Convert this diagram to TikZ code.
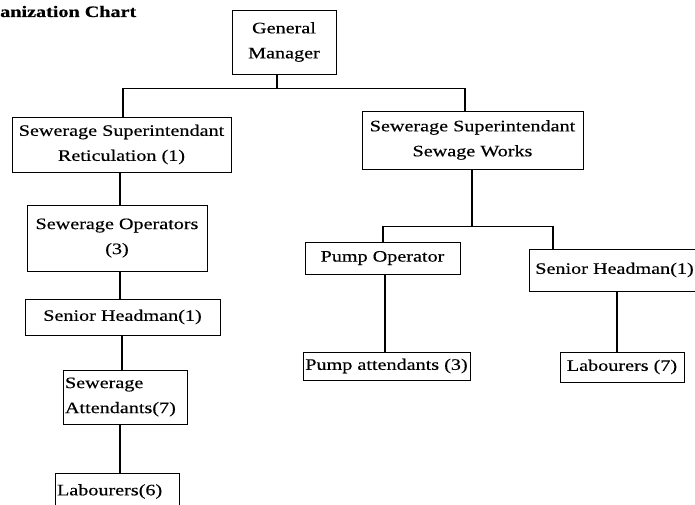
\documentclass[tikz,border=0pt]{standalone}
\usepackage{fontspec}
\setmainfont{Liberation Serif}[FakeStretch=1.26,FakeBold=0.4]
\begin{document}
\begin{tikzpicture}[x=1pt,y=-1pt,
  box/.style={draw=black,line width=0.9pt,inner sep=0pt,align=center,
    font=\fontsize{16}{25}\selectfont},
  link/.style={line width=1.4pt},
  bar/.style={line width=0.7pt}]
\useasboundingbox (0,0) rectangle (695,505);

% heading
\node[anchor=base west,inner sep=0pt,font=\fontsize{16}{18}\selectfont\bfseries] (title) at (0,17) {anization Chart};

% positions
\node[box,minimum width=104pt,minimum height=64pt] (gm) at (284,42) {General\\Manager};
\node[box,minimum width=219pt,minimum height=55pt] (ret) at (121.5,144.5) {Sewerage Superintendant\\Reticulation (1)};
\node[box,minimum width=221pt,minimum height=58pt] (works) at (472.5,140) {Sewerage Superintendant\\Sewage Works};
\node[box,minimum width=180pt,minimum height=66pt] (ops) at (117,238) {Sewerage Operators\\(3)};
\node[box,minimum width=195pt,minimum height=36pt] (sh1) at (122.5,317) {Senior Headman(1)};
\node[box,align=left,minimum width=124pt,minimum height=54pt,text width=120pt] (att) at (125,397) {Sewerage\\Attendants(7)};
\node[box,align=left,minimum width=124pt,minimum height=37pt,text width=120pt] (lab6) at (117,491.5) {Labourers(6)};
\node[box,minimum width=155pt,minimum height=32pt] (pop) at (382.5,258) {Pump Operator};
\node[box,minimum width=171pt,minimum height=42pt] (sh2) at (614.5,270) {Senior Headman(1)};
\node[box,minimum width=167pt,minimum height=28pt] (patt) at (386.5,366) {Pump attendants (3)};
\node[box,minimum width=124pt,minimum height=30pt] (lab7) at (622,367) {Labourers (7)};

% junctions of the branch bars
\coordinate (j0) at (277,88);
\coordinate (jL) at (123,88);
\coordinate (jR) at (465,88);
\coordinate (k0) at (472,226);
\coordinate (kL) at (383,226);
\coordinate (kR) at (553,226);

% top level
\draw[link] (gm.south -| j0) -- (j0);
\draw[bar] (jL) -- (jR);
\draw[link] (jL) -- (jL |- ret.north);
\draw[link] (jR) -- (jR |- works.north);

% reticulation branch
\draw[link] ([xshift=-1.5pt]ret.south) coordinate (r1) -- (r1 |- ops.north);
\draw[link] ([xshift=3pt]ops.south) coordinate (r2) -- (r2 |- sh1.north);
\draw[link] ([xshift=-0.5pt]sh1.south) coordinate (r3) -- (r3 |- att.north);
\draw[link] ([xshift=-5pt]att.south) coordinate (r4) -- (r4 |- lab6.north);

% sewage works branch
\draw[link] (works.south -| k0) -- (k0);
\draw[bar] (kL) -- (kR);
\draw[link] (kL) -- (kL |- pop.north);
\draw[link] (kR) -- (kR |- sh2.north);
\draw[link] ([xshift=2.5pt]pop.south) coordinate (s1) -- (s1 |- patt.north);
\draw[link] ([xshift=2.5pt]sh2.south) coordinate (s2) -- (s2 |- lab7.north);
\end{tikzpicture}
\end{document}
